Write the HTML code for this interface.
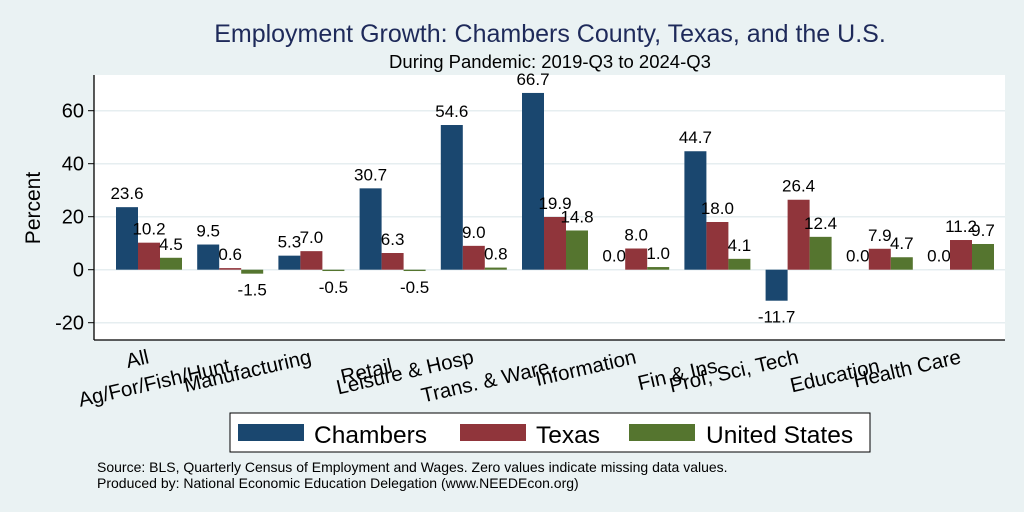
<!DOCTYPE html>
<html><head><meta charset="utf-8"><style>
body{margin:0;background:#eaf2f3;}
svg{display:block;font-family:"Liberation Sans",Arial,sans-serif;}
</style></head><body>
<svg width="1024" height="512">
<rect x="0" y="0" width="1024" height="512" fill="#eaf2f3"/>
<text x="550" y="42" text-anchor="middle" font-size="25" fill="#1e2a5a">Employment Growth: Chambers County, Texas, and the U.S.</text>
<text x="550" y="68" text-anchor="middle" font-size="18.5" fill="#000">During Pandemic: 2019-Q3 to 2024-Q3</text>
<rect x="94" y="75" width="911" height="265" fill="#fff"/>
<g id="grid"></g>
<g id="bars"></g>
<line x1="94" y1="75" x2="94" y2="340" stroke="#000" stroke-width="1.3"/>
<line x1="94" y1="340" x2="1005" y2="340" stroke="#000" stroke-width="1.3"/>
<g id="yticks"></g>
<g id="xlabels"></g>
<text transform="translate(40,208) rotate(-90)" text-anchor="middle" font-size="21">Percent</text>
<rect x="230" y="413" width="640" height="39" fill="#fff" stroke="#000" stroke-width="1"/>
<g><rect x="238" y="424" width="66" height="17" fill="#1a476f"/><text x="314" y="443" font-size="24.5">Chambers</text></g>
<g><rect x="460" y="424" width="66" height="17" fill="#90353b"/><text x="536" y="443" font-size="24.5">Texas</text></g>
<g><rect x="629" y="424" width="66" height="17" fill="#55752f"/><text x="706" y="443" font-size="24.5">United States</text></g>
<text x="97" y="472" font-size="14">Source: BLS, Quarterly Census of Employment and Wages. Zero values indicate missing data values.</text>
<text x="97" y="488" font-size="14">Produced by: National Economic Education Delegation (www.NEEDEcon.org)</text>
</svg>
<script>
const categories=["All","Ag/For/Fish/Hunt","Manufacturing","Retail","Leisure & Hosp","Trans. & Ware.","Information","Fin & Ins","Prof, Sci, Tech","Education","Health Care"];
const chambers=[23.6,9.5,5.3,30.7,54.6,66.7,0.0,44.7,-11.7,0.0,0.0];
const texas=[10.2,0.6,7.0,6.3,9.0,19.9,8.0,18.0,26.4,7.9,11.2];
const us=[4.5,-1.5,-0.5,-0.5,0.8,14.8,1.0,4.1,12.4,4.7,9.7];
const yTicks=[-20,0,20,40,60];
const series=[{name:"chambers",v:chambers,c:"#1a476f"},{name:"texas",v:texas,c:"#90353b"},{name:"us",v:us,c:"#55752f"}];
const NS="http://www.w3.org/2000/svg";
const y=v=>269.7-v*2.65;
const xc=i=>149+i*81.2;
const BW=22;
function mk(t,a,p){const e=document.createElementNS(NS,t);for(const k in a)e.setAttribute(k,a[k]);p.appendChild(e);return e;}
const grid=document.getElementById('grid'),yt=document.getElementById('yticks'),bars=document.getElementById('bars'),xl=document.getElementById('xlabels');
yTicks.forEach(t=>{
 const g=mk('line',{x1:94,x2:1005,y1:y(t),y2:y(t),stroke:'#e6eef0','stroke-width':1.5},grid);
 
 
 const tk=mk('line',{x1:88,x2:94,y1:y(t),y2:y(t),stroke:'#000'},yt);
 
 
 const tx=mk('text',{x:84,y:y(t)+7,'text-anchor':'end','font-size':20},yt);
 tx.textContent=t;
 
 
});
categories.forEach((c,i)=>{
 series.forEach((s,j)=>{
  const v=s.v[i],x0=xc(i)-33+j*BW;
  const r=mk('rect',{x:x0,y:Math.min(y(v),y(0)),width:BW,height:Math.max(Math.abs(y(v)-y(0)),0.01),fill:s.c},bars);
  
  
  const t=mk('text',{x:x0+BW/2,y:v>=0?y(v)-8:y(v)+22,'text-anchor':'middle','font-size':17},bars);
  t.textContent=v.toFixed(1);
  
  
 });
 const lower=i%2===1;
 const ax=xc(i)+1,ay=lower?372:363;
 const l=mk('text',{transform:`translate(${ax},${ay}) rotate(-13)`,'text-anchor':'end','font-size':20.5},xl);
 l.textContent=c;
 
 
});
</script>
</body></html>
